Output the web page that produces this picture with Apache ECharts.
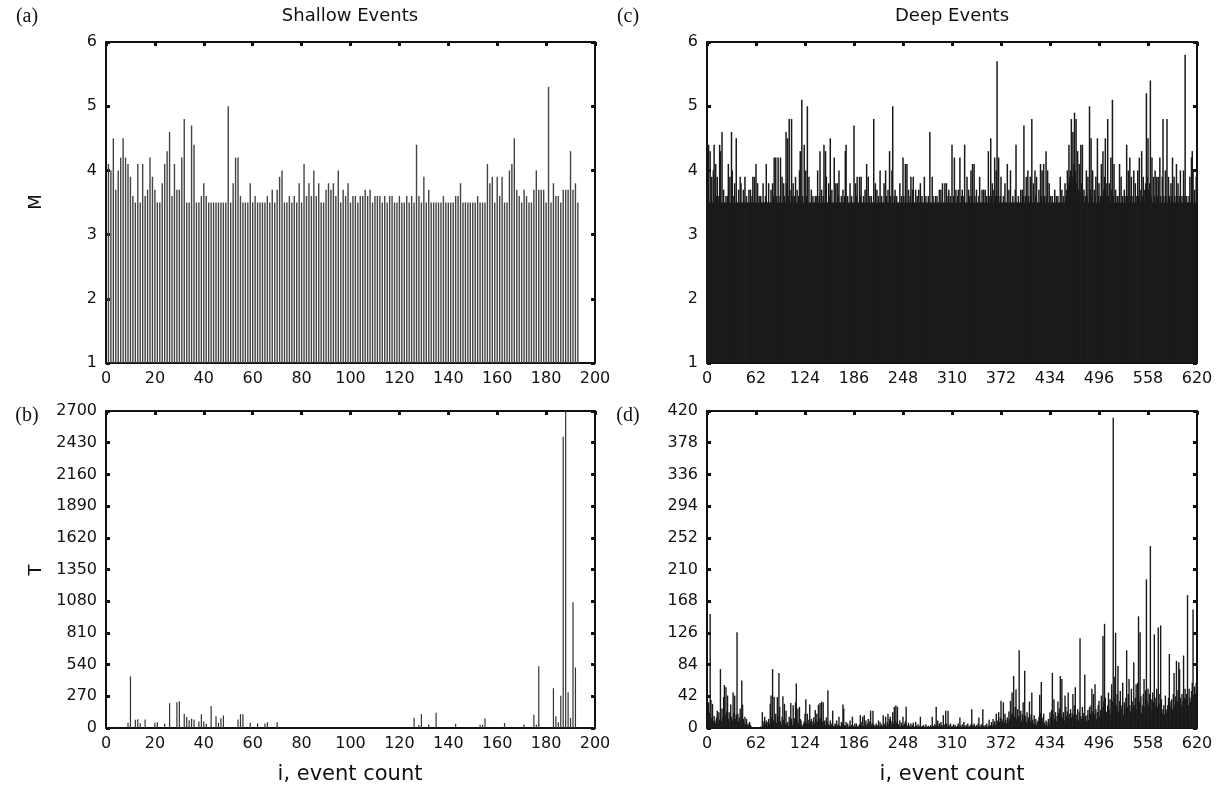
<!DOCTYPE html>
<html><head><meta charset="utf-8">
<script src="https://cdn.jsdelivr.net/npm/echarts@6/dist/echarts.min.js"></script>
<style>html,body{margin:0;padding:0;background:#fff}#c{width:1224px;height:789px}</style>
</head><body><div id="c"></div>
<script>
// ---- Data ----
// Shallow events, i = 1..193
const shallowM = [
4.1,4.0,4.5,3.7,4.0,4.2,4.5,4.2,4.1,3.9,3.6,3.5,4.1,3.5,4.1,3.6,3.7,4.2,3.9,3.7,
3.5,3.5,3.8,4.1,4.3,4.6,3.6,4.1,3.7,3.7,4.2,4.8,3.5,3.5,4.7,4.4,3.5,3.5,3.6,3.8,
3.6,3.5,3.5,3.5,3.5,3.5,3.5,3.5,3.5,5.0,3.5,3.8,4.2,4.2,3.6,3.5,3.5,3.5,3.8,3.5,
3.6,3.5,3.5,3.5,3.5,3.6,3.5,3.7,3.5,3.7,3.9,4.0,3.5,3.5,3.6,3.5,3.6,3.5,3.8,3.5,
4.1,3.6,3.8,3.6,4.0,3.6,3.8,3.5,3.5,3.7,3.8,3.7,3.8,3.6,4.0,3.5,3.7,3.6,3.8,3.5,
3.6,3.6,3.5,3.6,3.6,3.7,3.6,3.7,3.5,3.6,3.6,3.6,3.5,3.6,3.5,3.6,3.6,3.5,3.5,3.6,
3.5,3.5,3.6,3.5,3.6,3.5,4.4,3.6,3.5,3.9,3.5,3.7,3.5,3.5,3.5,3.5,3.5,3.6,3.5,3.5,
3.5,3.5,3.6,3.6,3.8,3.5,3.5,3.5,3.5,3.5,3.5,3.6,3.5,3.5,3.5,4.1,3.8,3.9,3.5,3.9,
3.6,3.9,3.5,3.5,4.0,4.1,4.5,3.7,3.6,3.5,3.7,3.6,3.5,3.5,3.7,4.0,3.7,3.7,3.7,3.5,
5.3,3.5,3.8,3.6,3.6,3.5,3.7,3.7,3.7,4.3,3.7,3.8,3.5
];
const shallowT = [
0,0,0,10,0,0,0,0,45,440,0,70,75,40,0,73,0,0,0,45,
50,0,0,37,0,211,0,0,219,228,0,121,93,65,79,73,0,56,118,56,
37,0,188,0,101,45,84,107,0,0,0,0,0,73,118,118,0,0,45,0,
0,39,0,0,39,50,0,0,0,50,0,0,0,0,0,0,0,0,0,0,
0,0,0,0,0,0,0,0,0,0,0,0,0,0,0,0,0,0,0,0,
0,0,0,0,0,0,0,0,0,0,0,0,0,0,0,0,0,0,0,0,
0,0,0,0,0,87,0,25,118,0,0,30,0,0,130,0,0,0,0,0,
0,0,36,0,0,0,0,0,0,0,0,0,28,28,81,0,0,0,0,0,
0,0,42,0,0,0,0,0,0,0,30,0,0,0,112,28,526,0,0,0,
0,0,339,101,50,274,2480,2700,305,87,1070,515,0
];
// Deep events, i = 0..619
const deepM = [
3.6,3.8,4.4,3.5,4.3,3.6,3.9,3.5,4.0,4.4,3.5,4.1,3.6,3.9,3.5,3.6,4.4,4.3,3.5,4.6,
3.5,3.7,3.5,3.5,3.6,3.5,3.6,4.1,3.5,3.9,3.5,4.6,4.0,3.5,3.6,3.8,3.5,4.5,3.5,3.5,
3.7,3.5,3.9,3.8,3.5,3.5,3.7,3.5,3.9,3.5,3.6,3.5,3.5,3.7,3.5,3.7,3.5,3.6,3.9,3.5,
3.9,3.5,4.1,3.5,3.8,3.5,3.6,3.5,3.6,3.5,3.5,3.8,3.5,3.5,3.6,4.1,3.5,3.5,3.8,3.5,
3.5,3.7,3.5,3.8,3.6,4.2,3.5,4.2,3.6,3.5,4.2,3.6,3.5,4.2,3.5,3.9,3.5,3.8,3.6,3.5,
4.6,3.8,4.5,3.6,4.8,3.7,3.5,4.8,3.6,3.8,3.5,3.6,3.9,3.5,3.7,3.5,3.6,4.0,4.3,3.5,
5.1,3.6,3.5,4.4,3.5,4.0,3.6,5.0,3.5,3.9,3.5,3.5,3.7,3.5,3.6,3.5,3.5,3.6,3.5,3.6,
4.0,3.5,3.6,4.3,3.5,3.7,3.5,3.6,4.4,3.5,4.3,3.9,3.5,3.5,3.8,3.6,4.5,3.5,3.7,3.5,
3.5,4.2,3.5,3.8,3.5,3.8,3.6,4.0,3.5,3.5,3.6,3.5,3.7,3.5,3.6,4.3,4.4,3.5,3.6,3.5,
3.5,3.8,3.5,3.6,3.5,3.5,4.7,3.5,3.8,3.6,3.9,3.5,3.5,3.9,3.6,3.9,3.5,3.5,3.6,3.5,
3.7,3.5,4.1,3.5,3.9,3.5,3.6,3.5,3.6,3.5,3.5,4.8,3.5,3.8,3.5,3.7,3.5,3.6,3.5,4.0,
3.5,3.6,3.5,3.5,3.8,3.5,4.0,3.6,3.5,3.7,3.5,4.3,3.6,3.5,4.0,5.0,3.5,3.6,3.7,3.5,
3.6,3.5,3.5,3.5,3.8,3.5,3.6,3.5,4.2,3.6,3.5,4.1,3.5,4.1,3.5,3.7,3.5,3.6,3.9,3.5,
3.7,3.9,3.5,3.5,3.7,3.5,3.6,3.5,3.7,3.5,3.8,3.5,3.6,3.5,3.5,3.9,3.5,3.6,3.5,3.5,
3.6,3.5,4.6,3.5,3.5,3.9,3.6,3.5,3.5,3.6,3.5,3.6,3.5,3.5,3.7,3.5,3.7,3.5,3.8,3.5,
3.5,3.8,3.5,3.8,3.5,3.6,3.7,3.5,3.6,3.5,4.4,3.5,3.6,4.2,3.5,3.7,3.5,3.6,3.7,3.5,
4.2,3.5,3.6,3.7,3.5,3.6,4.4,3.5,3.5,3.9,3.5,3.7,3.6,3.5,4.0,3.6,4.1,3.5,4.1,3.6,
3.5,3.7,3.5,3.5,3.6,3.9,3.5,3.5,3.7,3.5,3.7,3.5,3.7,3.5,3.6,3.5,4.3,3.6,3.5,4.5,
3.6,3.8,3.5,3.7,4.2,3.6,4.0,5.7,3.6,4.2,3.5,3.6,3.9,3.5,3.5,3.6,3.5,3.8,3.5,3.5,
4.1,3.5,3.7,3.5,4.0,3.5,3.5,3.6,3.5,3.5,3.7,4.4,3.5,3.5,3.6,3.5,3.5,3.7,3.5,3.7,
3.6,4.7,3.5,3.6,3.9,3.5,4.0,3.6,3.5,3.9,3.6,4.8,3.5,3.8,3.5,4.0,3.6,3.9,3.5,3.5,
3.7,3.5,4.1,3.6,4.0,3.5,4.1,3.6,3.5,4.3,3.6,4.0,3.5,3.8,3.5,3.6,3.5,3.6,3.5,3.5,
3.7,3.5,3.6,3.5,3.6,3.5,3.5,3.9,3.5,3.7,3.5,3.6,3.5,3.8,3.6,3.7,4.0,3.8,4.4,3.9,
4.0,4.8,3.9,4.6,4.1,4.9,4.0,4.8,3.8,4.3,3.7,4.1,3.6,4.4,3.8,4.4,3.6,3.7,3.5,3.6,
4.0,3.6,3.9,3.5,5.0,3.7,4.5,3.6,4.0,3.5,3.7,3.6,3.9,3.5,4.5,3.6,3.8,3.5,3.6,4.1,
3.6,4.3,3.7,3.9,4.5,3.6,3.8,4.8,3.6,3.8,3.5,4.2,3.7,5.1,3.6,4.1,3.5,3.7,3.5,3.6,
3.6,3.5,4.1,3.5,3.9,3.5,3.6,3.5,3.7,3.6,3.5,4.4,3.6,4.0,3.5,4.2,3.6,3.9,3.5,3.6,
4.0,3.5,3.8,3.6,3.5,4.0,3.6,4.2,3.5,3.7,4.3,3.6,3.9,3.5,3.7,3.8,5.2,3.9,4.5,3.7,
3.8,5.4,3.6,4.2,3.5,3.9,3.6,4.0,3.5,3.9,3.6,3.9,3.5,4.2,3.6,3.5,3.9,4.8,3.6,3.5,
4.0,3.6,4.8,3.5,3.9,3.6,3.5,3.8,3.6,4.2,3.5,3.9,3.6,3.5,4.1,3.6,3.8,3.5,3.6,4.0,
3.5,3.6,3.5,4.0,3.6,5.8,3.5,3.6,3.5,3.5,3.6,3.9,3.5,4.2,4.3,4.0,3.5,3.7,3.5,3.9
];
const deepT = [
18,12,34,20,151,37,14,32,9,16,10,6,14,23,8,21,11,78,9,26,
14,41,57,18,54,22,43,12,21,8,31,15,10,47,20,43,12,18,127,19,
9,14,26,11,63,31,12,7,15,5,12,4,6,3,8,4,2,1,0,1,
0,1,0,0,1,0,1,0,2,1,21,4,9,15,6,10,3,8,12,6,
32,43,14,78,10,41,12,19,7,41,16,73,28,9,5,15,42,11,32,6,
23,5,8,3,15,9,33,12,4,30,8,13,34,59,10,26,6,28,12,10,
4,2,6,9,19,38,7,19,11,5,31,8,12,4,9,14,6,24,10,19,
8,31,12,33,14,35,9,34,6,10,4,14,8,50,5,3,10,4,6,23,
3,2,6,4,10,3,5,15,3,2,8,6,31,26,4,3,8,2,6,1,
3,10,2,4,15,3,1,6,2,6,1,3,2,5,17,4,8,15,3,17,
5,10,3,6,12,2,9,23,4,7,23,5,3,2,6,4,3,10,2,8,
3,5,2,17,6,4,15,3,8,19,5,12,15,4,9,21,6,28,10,30,
7,28,5,3,10,2,7,4,15,3,6,9,28,4,2,7,3,1,6,2,
4,7,2,1,8,3,2,5,1,3,15,2,1,3,4,1,2,5,1,2,
3,1,2,4,1,15,3,2,5,3,28,4,10,2,6,3,8,4,2,17,
5,3,23,6,2,23,4,2,6,1,3,2,5,1,4,2,1,3,6,2,
14,3,1,5,2,8,3,1,4,2,6,1,3,2,5,25,4,2,6,3,
1,4,2,6,14,3,1,5,2,25,3,1,4,2,6,1,3,11,2,4,
8,3,12,5,9,4,19,6,10,21,8,14,36,12,9,34,7,19,11,6,
14,9,22,12,36,18,47,20,69,15,28,51,12,25,16,103,14,23,9,18,
34,12,76,16,8,21,10,14,35,9,18,47,11,6,17,5,12,4,8,10,
15,44,20,61,9,14,19,7,4,10,8,3,12,6,21,14,24,73,18,38,
12,21,9,16,35,20,26,69,18,65,14,21,10,43,28,16,22,47,13,19,
25,14,20,45,17,30,54,12,18,25,10,22,119,16,12,28,20,14,71,16,
9,17,24,11,28,19,30,52,22,45,18,58,25,12,21,30,36,15,24,43,
28,122,35,138,40,22,21,30,47,25,38,18,58,35,411,40,68,126,30,45,
82,22,36,49,25,30,60,18,34,26,40,103,28,45,65,30,22,52,35,28,
87,30,40,58,25,60,148,35,127,42,20,30,45,65,28,50,197,35,52,30,
45,241,38,25,47,35,124,30,40,52,28,133,45,32,136,38,20,25,30,18,
43,22,25,30,40,98,28,35,38,25,45,73,30,42,89,35,50,87,78,40,
30,45,35,96,40,52,38,45,176,30,52,40,35,49,60,157,42,55,45,60
];
// Axis ranges / tick steps
const shallowX = {min: 0, max: 200, step: 20};
const deepX = {min: 0, max: 620, step: 62};
const magY = {min: 1, max: 6, step: 1};
const shallowTY = {min: 0, max: 2700, step: 270};
const deepTY = {min: 0, max: 420, step: 42};

// ---- Chart ----
const chart = echarts.init(document.getElementById('c'), null, {renderer: 'canvas'});
const NUM_FONT = 'DejaVu Sans';
const TXT_FONT = 'DejaVu Sans';
const INK = '#111';

const grids = [
  {left: 106, top: 42, width: 489, height: 321},
  {left: 106, top: 411, width: 489, height: 317},
  {left: 707, top: 42, width: 490, height: 321},
  {left: 707, top: 411, width: 490, height: 317}
];
const xr = [shallowX, shallowX, deepX, deepX];
const yr = [magY, shallowTY, magY, deepTY];
const plain = v => String(v);

const xAxes = [], yAxes = [];
grids.forEach((g, k) => {
  const line = {show: true, onZero: false, lineStyle: {color: INK, width: 2}};
  const tick = {show: true, inside: true, length: 4, lineStyle: {color: INK, width: 3}};
  xAxes.push({type: 'value', gridIndex: k, position: 'bottom', min: xr[k].min, max: xr[k].max, interval: xr[k].step,
    axisLine: line, axisTick: {show: false}, splitLine: {show: false},
    axisLabel: {fontFamily: NUM_FONT, fontSize: 16, color: INK, margin: 8, formatter: plain, showMinLabel: true, showMaxLabel: true}});
  xAxes.push({type: 'value', gridIndex: k, position: 'top', min: xr[k].min, max: xr[k].max, interval: xr[k].step,
    axisLine: line, axisTick: tick, splitLine: {show: false}, axisLabel: {show: false}});
  yAxes.push({type: 'value', gridIndex: k, position: 'left', min: yr[k].min, max: yr[k].max, interval: yr[k].step,
    axisLine: line, axisTick: tick, splitLine: {show: false},
    axisLabel: {fontFamily: NUM_FONT, fontSize: 16, color: INK, margin: 9, formatter: plain, showMinLabel: true, showMaxLabel: true}});
  yAxes.push({type: 'value', gridIndex: k, position: 'right', min: yr[k].min, max: yr[k].max, interval: yr[k].step,
    axisLine: line, axisTick: tick, splitLine: {show: false}, axisLabel: {show: false}});
});

const seriesSrc = [
  {data: shallowM, start: 1, color: '#444', w: 1.4},
  {data: shallowT, start: 1, color: '#333', w: 1.2},
  {data: deepM, start: 0, color: '#1a1a1a', w: 1.5},
  {data: deepT, start: 0, color: '#1a1a1a', w: 1.4}
];
const series = seriesSrc.map((s, k) => ({
  type: 'bar', xAxisIndex: 2 * k, yAxisIndex: 2 * k, clip: true,
  barWidth: s.w, barGap: '-100%', animation: false, silent: true,
  itemStyle: {color: s.color},
  data: s.data.map((v, j) => [j + s.start, v])
}));

function txt(x, y, text, size, font, rot) {
  return {type: 'text', x: x, y: y, rotation: rot || 0, silent: true,
    style: {text: text, fontSize: size, fontFamily: font, fill: INK, align: 'center', verticalAlign: 'middle'}};
}

chart.setOption({
  backgroundColor: '#fff',
  animation: false,
  grid: grids,
  xAxis: xAxes,
  yAxis: yAxes,
  series: series,
  graphic: [
    txt(350, 16, 'Shallow Events', 18, TXT_FONT),
    txt(952, 16, 'Deep Events', 18, TXT_FONT),
    txt(27, 17, '(a)', 20, 'Liberation Serif'),
    txt(27, 416, '(b)', 20, 'Liberation Serif'),
    txt(628, 17, '(c)', 20, 'Liberation Serif'),
    txt(628, 416, '(d)', 20, 'Liberation Serif'),
    txt(36, 202, 'M', 18, TXT_FONT, Math.PI / 2),
    txt(36, 570, 'T', 18, TXT_FONT, Math.PI / 2),
    txt(350, 775, 'i, event count', 21, TXT_FONT),
    txt(952, 775, 'i, event count', 21, TXT_FONT)
  ]
});
</script>
</body></html>
